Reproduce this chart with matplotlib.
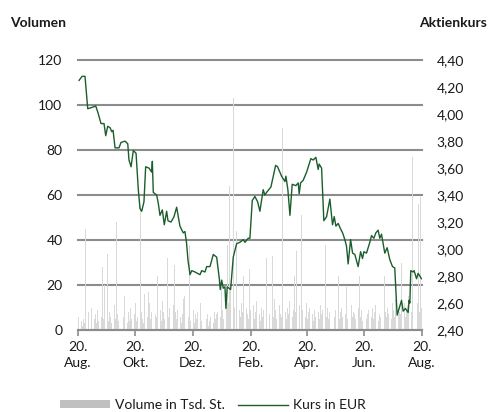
import numpy as np
import pandas as pd
import matplotlib
matplotlib.use("Agg")
import matplotlib.pyplot as plt
from matplotlib.patches import Patch
from matplotlib.lines import Line2D
from matplotlib.ticker import FuncFormatter

plt.rcParams['font.family'] = ['Lato', 'DejaVu Sans']

START = pd.Timestamp('2020-08-20')
END = pd.Timestamp('2021-08-20')

# daily volume (Tsd. St.), one per trading day
volume = [
    3, 6, 4, 2, 5, 3, 45, 8, 4, 6,
    48, 10, 5, 7, 3, 9, 4, 6, 28, 5,
    20, 7, 34, 4, 8, 6, 3, 11, 5, 48,
    7, 4, 9, 14, 5, 6, 15, 3, 8, 4,
    10, 5, 7, 12, 4, 6, 9, 55, 8, 5,
    3, 16, 6, 17, 12, 5, 8, 10, 28, 7,
    6, 24, 9, 4, 13, 8, 5, 32, 6, 10,
    7, 4, 11, 29, 8, 5, 9, 6, 3, 7,
    14, 15, 5, 8, 6, 38, 4, 9, 3, 7,
    5, 8, 12, 4, 6, 3, 9, 5, 7, 2,
    4, 6, 3, 8, 5, 7, 8, 4, 6, 19,
    9, 5, 14, 38, 12, 64, 18, 103, 10, 7,
    14, 44, 9, 6, 12, 8, 24, 10, 7, 5,
    27, 9, 6, 11, 5, 8, 13, 7, 4, 10,
    6, 9, 32, 5, 12, 8, 7, 33, 6, 14,
    9, 5, 11, 7, 6, 90, 12, 8, 5, 10,
    7, 13, 6, 9, 24, 8, 35, 11, 45, 7,
    51, 9, 6, 12, 5, 8, 10, 7, 4, 9,
    6, 22, 8, 5, 11, 7, 9, 38, 6, 10,
    5, 8, 12, 37, 7, 6, 9, 24, 5, 8,
    10, 6, 7, 19, 5, 9, 4, 11, 6, 8,
    7, 5, 10, 24, 6, 9, 4, 8, 12, 5,
    7, 9, 6, 10, 5, 8, 11, 4, 7, 6,
    9, 5, 24, 8, 6, 10, 7, 5, 12, 9,
    6, 14, 58, 10, 8, 7, 30, 12, 6, 9,
    11, 15, 8, 77, 10, 7, 9, 12, 56, 8,
    59, 10,
]

# share price (EUR): days after 20 Aug 2020, price
price_days = [
    1.4, 4.6, 7.7, 10.6, 15.2, 19.1, 21.5, 24.7, 27.9, 29.7,
    31.8, 34.3, 36.1, 37.5, 39.6, 43.8, 45.9, 50.2, 53.1, 54.4,
    56.6, 59.0, 61.9, 64.3, 66.1, 67.9, 70.3, 72.1, 75.6, 78.5,
    79.2, 80.2, 83.8, 85.5, 87.3, 89.8, 91.9, 94.4, 95.8, 99.0,
    102.2, 105.0, 108.5, 112.0, 113.8, 115.6, 117.0, 119.2, 121.0, 124.5,
    129.8, 131.6, 135.1, 136.9, 140.4, 143.9, 147.5, 150.3, 151.3, 152.8,
    154.5, 156.3, 157.3, 158.7, 162.3, 165.1, 168.7, 172.2, 175.7, 177.5,
    181.0, 182.8, 185.3, 188.1, 191.0, 193.4, 196.9, 198.7, 200.5, 205.1,
    210.1, 212.2, 216.4, 220.0, 221.0, 223.1, 225.3, 227.7, 231.6, 234.1,
    235.1, 236.6, 239.4, 243.0, 247.5, 250.0, 252.8, 255.3, 256.3, 258.9,
    261.3, 264.2, 267.7, 270.5, 272.3, 274.1, 276.5, 279.0, 281.2, 283.6,
    285.4, 287.1, 289.7, 291.8, 294.2, 297.7, 300.3, 302.4, 303.8, 306.6,
    310.1, 311.9, 314.4, 316.5, 318.9, 320.7, 322.5, 326.0, 328.5, 331.4,
    334.2, 336.6, 339.1, 341.2, 343.8, 345.5, 348.0, 350.8, 351.8, 352.6,
    353.6, 356.1, 357.1, 359.7, 361.4, 365.0,
]
price = [
    4.25, 4.28, 4.28, 4.04, 4.05, 4.06, 4.01, 3.93, 3.93, 3.84,
    3.91, 3.90, 3.87, 3.88, 3.75, 3.75, 3.79, 3.80, 3.78, 3.66,
    3.61, 3.73, 3.71, 3.44, 3.30, 3.28, 3.35, 3.61, 3.60, 3.57,
    3.65, 3.42, 3.40, 3.34, 3.25, 3.29, 3.18, 3.28, 3.21, 3.20,
    3.24, 3.31, 3.17, 3.12, 3.13, 3.04, 2.92, 2.81, 2.84, 2.83,
    2.81, 2.84, 2.83, 2.87, 2.87, 2.96, 2.94, 2.78, 2.70, 2.77,
    2.71, 2.72, 2.56, 2.72, 2.70, 2.94, 3.04, 3.05, 3.07, 3.05,
    3.08, 3.08, 3.36, 3.39, 3.35, 3.28, 3.44, 3.40, 3.42, 3.46,
    3.62, 3.61, 3.54, 3.50, 3.54, 3.44, 3.25, 3.48, 3.47, 3.49,
    3.41, 3.49, 3.51, 3.57, 3.67, 3.66, 3.68, 3.59, 3.63, 3.60,
    3.21, 3.24, 3.37, 3.18, 3.24, 3.17, 3.19, 3.15, 3.12, 3.07,
    3.02, 2.89, 3.07, 2.97, 2.96, 2.87, 2.98, 2.93, 2.98, 2.97,
    3.05, 3.10, 3.08, 3.12, 3.14, 3.08, 3.11, 2.97, 3.01, 2.92,
    2.87, 2.86, 2.51, 2.56, 2.62, 2.54, 2.56, 2.53, 2.62, 2.60,
    2.84, 2.83, 2.84, 2.78, 2.82, 2.78,
]

tick_dates = ['2020-08-20', '2020-10-20', '2020-12-20', '2021-02-20',
              '2021-04-20', '2021-06-20', '2021-08-20']
tick_labels = ['20.\nAug.', '20.\nOkt.', '20.\nDez.', '20.\nFeb.',
               '20.\nApr.', '20.\nJun.', '20.\nAug.']

vol_dates = pd.bdate_range(START, END)
price_dates = [START + pd.Timedelta(days=d) for d in price_days]

GREEN = '#1b5e2c'
GRID = '#8c8c8c'
BAR = '#d9d9d9'
TXT = '#1a1a1a'

fig = plt.figure(figsize=(4.89, 4.12), dpi=100)
ax = fig.add_axes([0.159, 0.199, 0.703, 0.655])

ax.bar(vol_dates, volume, width=0.9, color=BAR, linewidth=0, zorder=1)
ax.set_ylim(0, 120)
ax.set_yticks(range(0, 121, 20))
ax.set_xlim(START, END)
ax.grid(axis='y', color=GRID, linewidth=1.5, zorder=0)
ax.set_axisbelow(True)
for gl in ax.get_ygridlines():
    gl.set_clip_on(False)
for s in ['left', 'right', 'top']:
    ax.spines[s].set_visible(False)
ax.spines['bottom'].set_color(GRID)
ax.spines['bottom'].set_linewidth(1.5)
ax.tick_params(axis='y', length=0, pad=11, labelsize=10, labelcolor=TXT)
ax.tick_params(axis='x', length=4, width=1.2, color=GRID, pad=4,
               labelsize=10, labelcolor=TXT)
ax.set_xticks(pd.to_datetime(tick_dates))
ax.set_xticklabels(tick_labels, linespacing=1.35)

ax2 = ax.twinx()
ax2.plot(price_dates, price, color=GREEN, linewidth=1.0, zorder=3)
ax2.set_ylim(2.4, 4.4)
ax2.set_yticks(np.arange(2.4, 4.41, 0.2))
ax2.yaxis.set_major_formatter(FuncFormatter(lambda v, p: f'{v:.2f}'.replace('.', ',')))
for s in ['left', 'right', 'top', 'bottom']:
    ax2.spines[s].set_visible(False)
ax2.tick_params(axis='y', length=0, pad=11, labelsize=10, labelcolor=TXT)
ax2.set_xlim(START, END)

fig.text(0.02, 0.945, 'Volumen', fontsize=10, fontweight='bold', color=TXT,
         ha='left', va='center')
fig.text(0.996, 0.945, 'Aktienkurs', fontsize=10, fontweight='bold', color=TXT,
         ha='right', va='center')

handles = [Patch(facecolor='#c0c0c0', edgecolor='none'),
           Line2D([0], [0], color=GREEN, linewidth=1.0)]
fig.legend(handles, ['Volume in Tsd. St.', 'Kurs in EUR'], ncol=2,
           loc='center', bbox_to_anchor=(0.435, 0.017), frameon=False,
           fontsize=10, handlelength=3.6, handleheight=0.5,
           handletextpad=0.4, columnspacing=0.9, labelcolor=TXT)

fig.savefig('out.png', dpi=100)
